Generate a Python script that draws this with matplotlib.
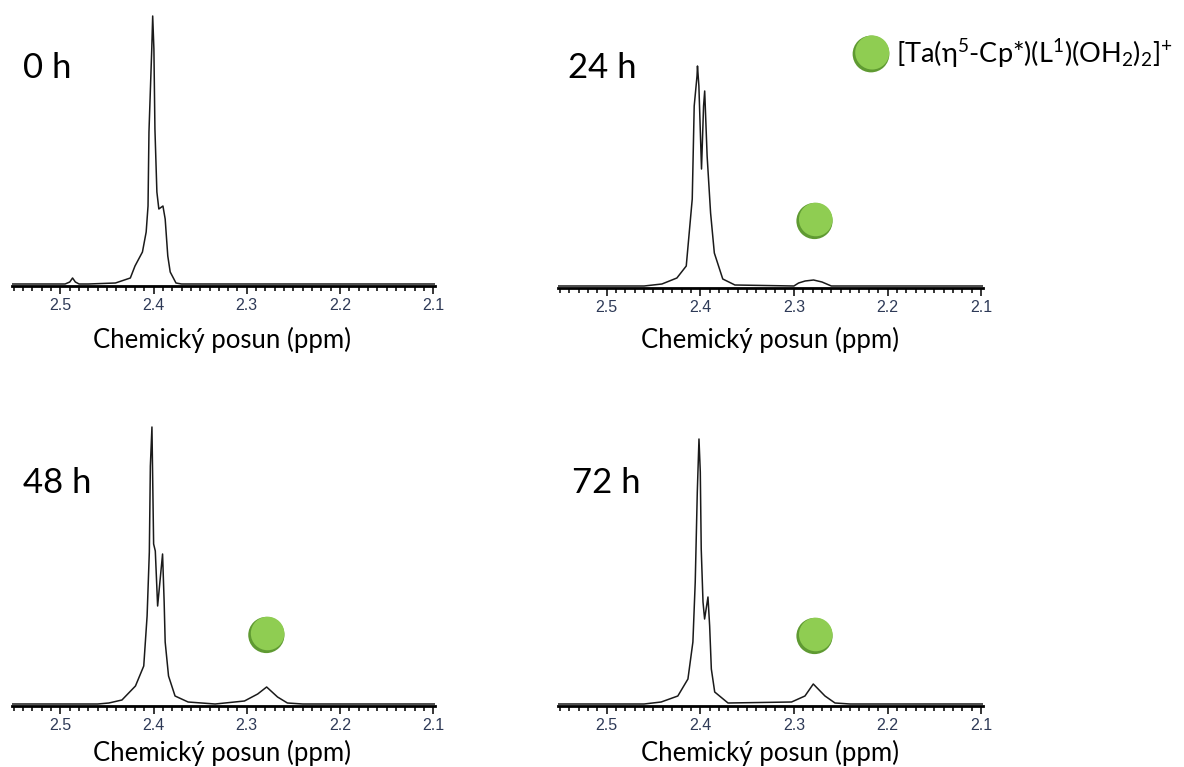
import matplotlib
matplotlib.use("Agg")
import matplotlib.pyplot as plt
from matplotlib.ticker import MultipleLocator, FormatStrFormatter
from matplotlib.transforms import offset_copy

# Figure size in pixels (dpi 100)
FIG_W = 1184
FIG_H = 767

plt.rcParams["font.family"] = ["Lato", "DejaVu Sans"]
plt.rcParams["mathtext.fontset"] = "custom"
plt.rcParams["mathtext.rm"] = "Lato"
plt.rcParams["mathtext.it"] = "Lato:italic"
plt.rcParams["mathtext.bf"] = "Lato:bold"

# Spectra: chemical shift (ppm) and signal height (pixel units)
shift_0h = [2.552, 2.495, 2.490, 2.487, 2.484, 2.480, 2.470, 2.441, 2.425, 2.420, 2.412, 2.408, 2.406,
            2.405, 2.402, 2.401, 2.3997, 2.3986, 2.3965, 2.3944, 2.390, 2.3876, 2.3848, 2.3822, 2.376,
            2.370, 2.098]
signal_0h = [0, 0, 2, 6, 2, 0, 0, 1, 6, 18, 32, 52, 78,
             152, 235, 268, 235, 155, 92, 75, 78, 65, 28, 12, 1,
             0, 0]

shift_24h = [2.552, 2.46, 2.441, 2.425, 2.415, 2.4086, 2.4065, 2.4035, 2.403, 2.4015, 2.3987, 2.3965,
             2.3953, 2.3927, 2.389, 2.385, 2.376, 2.363, 2.30, 2.295, 2.288, 2.279, 2.270, 2.26, 2.098]
signal_24h = [0, 0, 2, 8, 20, 87, 180, 210, 220, 200, 117, 180,
              195, 130, 73, 33, 7, 1, 0, 3, 5, 6, 4, 0, 0]

shift_48h = [2.552, 2.46, 2.448, 2.434, 2.4195, 2.4106, 2.407, 2.4046, 2.4035, 2.4018, 2.400, 2.3982,
             2.3957, 2.3904, 2.3887, 2.3876, 2.384, 2.377, 2.363, 2.334, 2.3025, 2.2883, 2.2787, 2.267,
             2.2564, 2.24, 2.098]
signal_48h = [0, 0, 1, 4, 18, 38, 88, 152, 238, 277, 160, 153,
              98, 150, 102, 62, 28, 8, 2, 0, 3, 10, 17, 7,
              1, 0, 0]

shift_72h = [2.552, 2.46, 2.4418, 2.424, 2.4132, 2.4079, 2.4054, 2.4032, 2.4014, 2.400, 2.399, 2.3971,
             2.3954, 2.3918, 2.390, 2.3882, 2.3846, 2.3704, 2.3025, 2.2882, 2.2793, 2.2668, 2.2561, 2.24,
             2.098]
signal_72h = [0, 0, 2, 8, 25, 62, 122, 212, 265, 232, 155, 102,
              85, 107, 78, 35, 12, 1, 2, 8, 20, 8, 1, 0,
              0]

panel_labels = ["0 h", "24 h", "48 h", "72 h"]

# Green dot marking the new species (panel index, ppm, height)
dot_panels = [1, 2, 3]
dot_ppm = [2.278, 2.279, 2.278]
dot_height = [65, 69, 68]

legend_label = "[Ta(η$^{5}$-Cp*)(L$^{1}$)(OH$_{2}$)$_{2}$]$^{+}$"
xlabel_text = "Chemický posun (ppm)"

# Layout in pixels: left, right, baseline, top
panel_boxes = [(12, 435, 286, 10), (558, 983, 288, 10), (12, 435, 706, 420), (558, 983, 706, 420)]
title_pos = [(23, 78), (568, 78), (23, 493), (572, 493)]
xlabel_pos = [(222, 348), (770, 348), (222, 761), (770, 761)]

DOT_LIGHT = "#8fcd52"
DOT_DARK = "#5f9a32"
TICK_COLOR = "#2e3a57"

fig = plt.figure(figsize=(FIG_W / 100, FIG_H / 100), dpi=100)

all_shifts = [shift_0h, shift_24h, shift_48h, shift_72h]
all_signals = [signal_0h, signal_24h, signal_48h, signal_72h]


def draw_dot(ax, x, y, transform, size):
    """Draw a slightly shaded green ball."""
    ax.scatter([x], [y], s=size, color=DOT_DARK, edgecolors="none", transform=transform,
               zorder=5, clip_on=False)
    lighter = offset_copy(transform, fig=fig, x=0.9, y=1.1, units="points")
    ax.scatter([x], [y], s=size * 0.86, color=DOT_LIGHT, edgecolors="none", transform=lighter,
               zorder=6, clip_on=False)


axes_list = []
for i in range(4):
    left, right, base, top = panel_boxes[i]
    ax = fig.add_axes([left / FIG_W, (FIG_H - base) / FIG_H, (right - left) / FIG_W, (base - top) / FIG_H])
    ax.plot(all_shifts[i], all_signals[i], color="#1a1a1a", lw=1.1)
    ax.set_xlim(2.552, 2.098)
    ax.set_ylim(-2, base - top - 2)
    for side in ["top", "left", "right"]:
        ax.spines[side].set_visible(False)
    ax.spines["bottom"].set_linewidth(2)
    ax.set_yticks([])
    ax.xaxis.set_major_locator(MultipleLocator(0.1))
    ax.xaxis.set_minor_locator(MultipleLocator(0.01))
    ax.xaxis.set_major_formatter(FormatStrFormatter("%.1f"))
    ax.tick_params(axis="x", which="major", length=6, width=1.1, pad=3, labelsize=11.5,
                   labelcolor=TICK_COLOR)
    ax.tick_params(axis="x", which="minor", length=3.8, width=1.1)
    for lab in ax.get_xticklabels():
        lab.set_family("Liberation Sans")
    ax.patch.set_alpha(0)
    axes_list.append(ax)

    tx, ty = title_pos[i]
    fig.text(tx / FIG_W, (FIG_H - ty) / FIG_H, panel_labels[i], fontsize=25, va="baseline", ha="left")
    lx, ly = xlabel_pos[i]
    fig.text(lx / FIG_W, (FIG_H - ly) / FIG_H, xlabel_text, fontsize=18.5, va="baseline", ha="center")

for j in range(len(dot_panels)):
    ax = axes_list[dot_panels[j]]
    draw_dot(ax, dot_ppm[j], dot_height[j], ax.transData, 680)

# Legend: ball and formula in the top right corner
draw_dot(axes_list[1], 871 / FIG_W, (FIG_H - 54) / FIG_H, fig.transFigure, 700)
fig.text(896 / FIG_W, (FIG_H - 63) / FIG_H, legend_label, fontsize=19.5, va="baseline", ha="left")

fig.savefig("out.png", dpi=100)
